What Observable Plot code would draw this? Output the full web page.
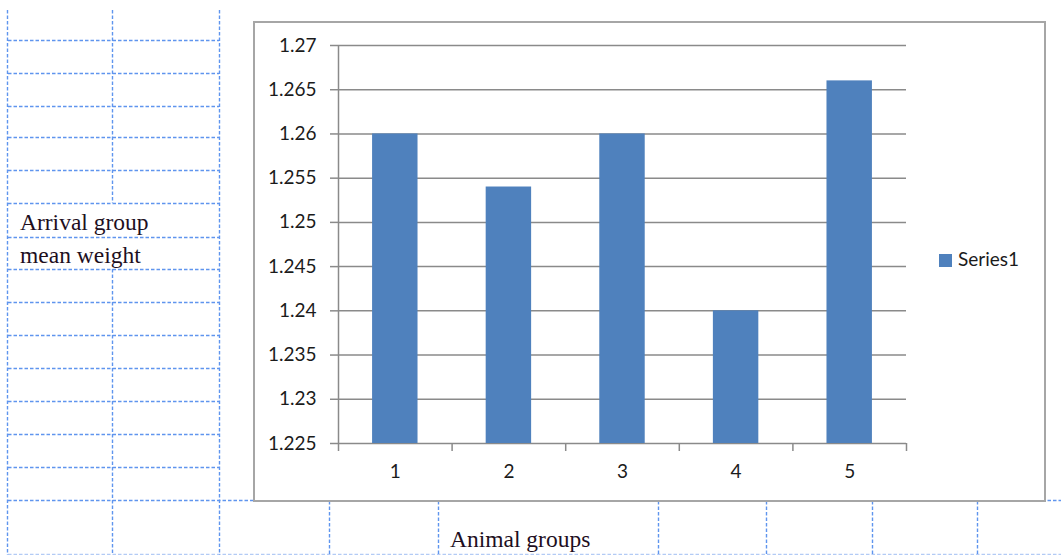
<!DOCTYPE html>
<html>
<head>
<meta charset="utf-8">
<script src="https://cdn.jsdelivr.net/npm/d3@7"></script>
<script src="https://cdn.jsdelivr.net/npm/@observablehq/plot@0.6"></script>
<style>
  html, body { margin: 0; padding: 0; background: #fff; }
  #page { position: relative; width: 1061px; height: 555px; overflow: hidden; }
  #sheet { position: absolute; left: 0; top: 0; }
  #box { position: absolute; left: 253px; top: 21px; width: 793px; height: 481px;
         box-sizing: border-box; border: 2px solid #a6a6a6; background: #fff; }
  #chart { position: absolute; left: 0; top: 0; }
  #chart svg { display: block; }
</style>
</head>
<body>
<div id="page">
  <svg id="sheet" width="1061" height="555"></svg>
  <div id="box"></div>
  <div id="chart"></div>
</div>
<script>
// Mean arrival weight per animal group
const groups = [1, 2, 3, 4, 5];
const meanWeight = [1.26, 1.254, 1.26, 1.24, 1.266];
const yTicks = [1.225, 1.23, 1.235, 1.24, 1.245, 1.25, 1.255, 1.26, 1.265, 1.27];
const seriesName = "Series1";
const xTitle = "Animal groups";
const yTitleLines = ["Arrival group", "mean weight"];

const rows = groups.map((g, i) => ({group: g, weight: meanWeight[i]}));
const barShare = 0.4;               // column gap width of 150%
const boundaries = [groups[0] - 0.5, ...groups.map(g => g + 0.5)];
const barColor = "#4F81BD";
const lineColor = "#8a8a8a";

// Spreadsheet cell grid behind the chart object
const sheet = d3.select("#sheet");
const dash = "3.5,2";
const cellBlue = "#5f95ee";
const hLeft = [40, 73, 106, 137, 170, 203, 237, 269, 302, 335, 368, 401, 434, 467];
function dashed(x1, y1, x2, y2, color = cellBlue) {
  sheet.append("line").attr("x1", x1).attr("y1", y1).attr("x2", x2).attr("y2", y2)
    .attr("stroke", color).attr("stroke-width", 1.4).attr("stroke-dasharray", dash);
}
hLeft.forEach(y => dashed(8, y + 0.5, 219, y + 0.5));
dashed(8, 500.5, 1061, 500.5);
dashed(8, 554.5, 1061, 554.5, "#b3cbf5");
[[7, 10, 555], [112, 10, 203], [112, 269, 555], [219, 10, 555]].forEach(([x, y1, y2]) =>
  dashed(x + 0.5, y1, x + 0.5, y2));
[329, 438, 658, 766, 872, 977].forEach(x => dashed(x + 0.5, 501, x + 0.5, 555));

const cellFont = {"font-family": "'Liberation Serif', serif", "font-size": "23.5px", fill: "#1e0f1e"};
yTitleLines.forEach((t, i) => {
  const el = sheet.append("text").attr("x", 20).attr("y", 230 + i * 33).text(t);
  Object.entries(cellFont).forEach(([k, v]) => el.attr(k, v));
});
{
  const el = sheet.append("text").attr("x", 450).attr("y", 547).text(xTitle);
  Object.entries(cellFont).forEach(([k, v]) => el.attr(k, v));
}

// Column chart
const chart = Plot.plot({
  width: 1061,
  height: 555,
  marginLeft: 338,
  marginRight: 155,
  marginTop: 45,
  marginBottom: 112,
  style: {background: "transparent", fontFamily: "Lato, sans-serif", fontSize: "19px", color: "#1b1b1b"},
  x: {type: "linear", domain: [boundaries[0], boundaries[boundaries.length - 1]]},
  y: {domain: [yTicks[0], yTicks[yTicks.length - 1]]},
  marks: [
    Plot.gridY({ticks: yTicks, stroke: lineColor, strokeOpacity: 1, strokeWidth: 1.5}),
    Plot.rect(rows, {
      x1: d => d.group - barShare / 2,
      x2: d => d.group + barShare / 2,
      y1: () => yTicks[0],
      y2: "weight",
      fill: barColor
    }),
    Plot.ruleX([boundaries[0]], {stroke: lineColor, strokeWidth: 1.5}),
    Plot.axisY({ticks: yTicks, tickSize: 8, tickPadding: 14, stroke: lineColor, strokeWidth: 1.5,
                strokeOpacity: 1, tickFormat: d => String(d), label: null}),
    Plot.axisX({ticks: boundaries, tickSize: 8, stroke: lineColor, strokeWidth: 1.5,
                strokeOpacity: 1, tickFormat: () => "", label: null}),
    Plot.axisX({ticks: groups, tickSize: 0, tickPadding: 21, tickFormat: d => String(d), label: null})
  ]
});
document.getElementById("chart").appendChild(chart);

// Legend
const svg = d3.select(chart);
const legend = svg.append("g").attr("transform", "translate(939,254)");
legend.append("rect").attr("width", 13).attr("height", 13).attr("fill", barColor);
legend.append("text").attr("x", 19).attr("y", 11.5).attr("text-anchor", "start")
  .attr("font-family", "Lato, sans-serif").attr("font-size", 19).attr("fill", "#1b1b1b")
  .text(seriesName);
</script>
</body>
</html>
